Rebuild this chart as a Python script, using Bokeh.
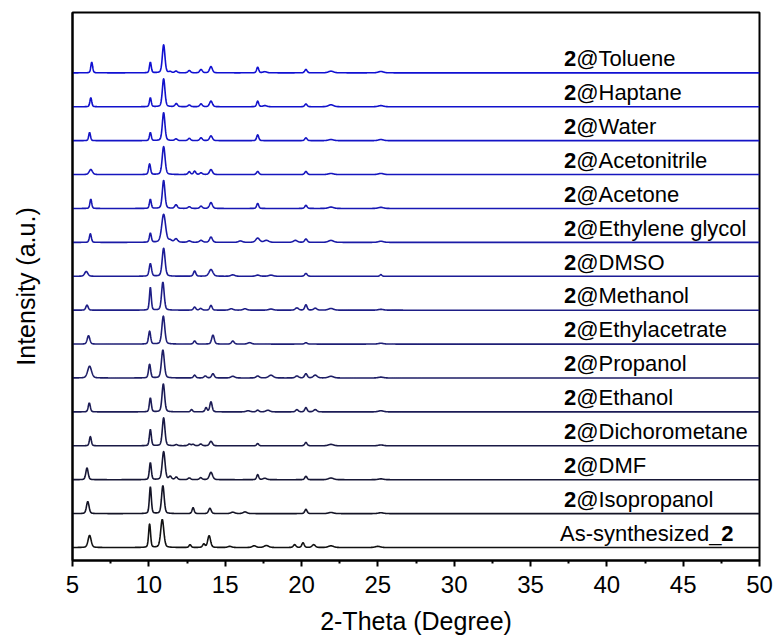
import numpy as np
from bokeh.plotting import figure
from bokeh.models import Range1d, FixedTicker, ColumnDataSource
from bokeh.core.properties import value
from bokeh.embed import file_html
from bokeh.resources import INLINE

# ---------------- data ----------------
SAMPLES = ["As-synthesized", "Isopropanol", "DMF", "Dichorometane", "Ethanol",
           "Propanol", "Ethylacetrate", "Methanol", "DMSO", "Ethylene glycol",
           "Acetone", "Acetonitrile", "Water", "Haptane", "Toluene"]

# peak positions (2-theta), relative intensities, FWHM (deg)
AS_POS = [6.12, 10.05, 10.88, 12.7, 13.6, 13.95, 15.3, 16.9, 17.7, 19.55, 20.1, 20.8, 21.93, 25.0]
AS_INT = [43, 84, 100, 10, 12, 42, 4, 6, 7, 10, 17, 10, 6, 4]
AS_W = [0.24, 0.15, 0.24, 0.16, 0.18, 0.22, 0.3, 0.3, 0.35, 0.2, 0.18, 0.25, 0.4, 0.4]

ISO_POS = [6.0, 10.1, 10.92, 12.9, 14.0, 15.5, 16.3, 20.29, 21.93, 25.2]
ISO_INT = [43, 95, 100, 21, 19, 5, 6, 15, 4, 3]
ISO_W = [0.2, 0.15, 0.2, 0.16, 0.2, 0.3, 0.3, 0.18, 0.4, 0.4]

DMF_POS = [5.95, 10.1, 10.97, 11.4, 11.8, 12.65, 13.4, 14.07, 17.13, 17.6, 20.29, 21.93, 25.2]
DMF_INT = [42, 61, 100, 11, 9, 6, 7, 26, 18, 5, 12, 6, 3]
DMF_W = [0.18, 0.15, 0.22, 0.2, 0.2, 0.2, 0.2, 0.25, 0.16, 0.3, 0.18, 0.4, 0.4]

DCM_POS = [6.17, 10.1, 10.97, 11.8, 12.65, 12.9, 13.4, 14.07, 17.13, 20.29, 21.93, 25.2]
DCM_INT = [33, 58, 100, 4, 6, 5, 6, 16, 8, 12, 5, 3]
DCM_W = [0.15, 0.15, 0.2, 0.2, 0.2, 0.2, 0.2, 0.22, 0.16, 0.18, 0.4, 0.4]

ETOH_POS = [6.1, 10.1, 10.95, 12.8, 13.75, 14.07, 16.5, 17.13, 17.8, 19.7, 20.29, 20.9, 25.2]
ETOH_INT = [32, 50, 100, 8, 15, 36, 4, 6, 6, 8, 15, 8, 4]
ETOH_W = [0.16, 0.15, 0.2, 0.16, 0.16, 0.18, 0.3, 0.2, 0.3, 0.2, 0.18, 0.25, 0.4]

PROP_POS = [6.12, 10.05, 10.92, 13.0, 13.7, 14.2, 15.5, 17.13, 18.0, 19.7, 20.29, 20.9, 21.93, 25.2]
PROP_INT = [42, 49, 100, 10, 7, 15, 6, 7, 10, 7, 15, 10, 6, 3]
PROP_W = [0.3, 0.16, 0.22, 0.18, 0.2, 0.2, 0.3, 0.25, 0.35, 0.25, 0.2, 0.3, 0.4, 0.4]

EA_POS = [6.05, 10.05, 10.95, 13.0, 14.2, 15.5, 16.6, 20.29, 25.2]
EA_INT = [30, 46, 100, 11, 32, 11, 5, 5, 3]
EA_W = [0.2, 0.16, 0.22, 0.18, 0.2, 0.2, 0.3, 0.2, 0.4]

MEOH_POS = [5.95, 10.1, 10.92, 13.0, 13.4, 14.07, 15.4, 16.3, 18.0, 19.7, 20.29, 20.9, 21.93, 25.2]
MEOH_INT = [18, 81, 100, 11, 6, 17, 5, 5, 4, 8, 19, 7, 6, 3]
MEOH_W = [0.18, 0.14, 0.2, 0.18, 0.2, 0.18, 0.3, 0.3, 0.35, 0.25, 0.18, 0.25, 0.4, 0.4]

DMSO_POS = [5.9, 10.1, 10.97, 13.0, 14.07, 15.5, 17.13, 18.0, 20.29, 25.2]
DMSO_INT = [17, 45, 100, 19, 24, 5, 4, 4, 10, 6]
DMSO_W = [0.25, 0.18, 0.22, 0.18, 0.3, 0.3, 0.3, 0.35, 0.2, 0.15]

EG_POS = [6.17, 10.1, 10.97, 11.4, 11.78, 12.65, 13.42, 14.07, 16.0, 17.13, 17.7, 19.6, 20.29, 21.93, 25.2]
EG_INT = [31, 33, 100, 7, 12, 5, 7, 19, 5, 15, 7, 7, 12, 7, 4]
EG_W = [0.15, 0.15, 0.3, 0.25, 0.25, 0.25, 0.25, 0.22, 0.3, 0.3, 0.35, 0.3, 0.2, 0.4, 0.4]

ACE_POS = [6.2, 10.1, 10.97, 11.78, 12.65, 13.42, 14.07, 17.13, 20.29, 21.93, 25.2]
ACE_INT = [33, 33, 100, 13, 6, 8, 21, 18, 11, 5, 4]
ACE_W = [0.14, 0.14, 0.2, 0.2, 0.2, 0.2, 0.22, 0.16, 0.18, 0.4, 0.4]

ACN_POS = [6.2, 10.05, 10.97, 12.65, 13.0, 13.42, 14.07, 17.13, 20.29, 21.93, 25.2]
ACN_INT = [18, 38, 100, 10, 12, 6, 18, 11, 11, 4, 4]
ACN_W = [0.25, 0.15, 0.22, 0.18, 0.18, 0.2, 0.22, 0.18, 0.18, 0.4, 0.4]

WAT_POS = [6.12, 10.1, 10.97, 11.78, 12.65, 13.42, 14.07, 17.13, 20.29, 21.93, 25.2]
WAT_INT = [29, 29, 100, 6, 8, 10, 17, 21, 10, 4, 4]
WAT_W = [0.14, 0.14, 0.2, 0.2, 0.2, 0.2, 0.22, 0.16, 0.18, 0.4, 0.4]

HEP_POS = [6.2, 10.1, 10.97, 11.8, 12.65, 13.42, 14.07, 17.13, 17.6, 20.29, 21.93, 25.2]
HEP_INT = [32, 32, 100, 11, 6, 10, 20, 20, 4, 10, 7, 4]
HEP_W = [0.14, 0.14, 0.2, 0.2, 0.2, 0.2, 0.22, 0.16, 0.3, 0.18, 0.4, 0.4]

TOL_POS = [6.26, 10.1, 10.97, 11.4, 11.78, 12.65, 13.42, 14.07, 17.13, 17.6, 20.29, 21.93, 25.2]
TOL_INT = [38, 38, 100, 4, 6, 8, 12, 22, 20, 4, 12, 6, 5]
TOL_W = [0.14, 0.14, 0.2, 0.2, 0.2, 0.2, 0.2, 0.22, 0.16, 0.3, 0.18, 0.4, 0.4]

X_TICKS = [5, 10, 15, 20, 25, 30, 35, 40, 45, 50]
X_MINOR = [7.5, 12.5, 17.5, 22.5, 27.5, 32.5, 37.5, 42.5, 47.5]

PEAKS = [(AS_POS, AS_INT, AS_W), (ISO_POS, ISO_INT, ISO_W), (DMF_POS, DMF_INT, DMF_W),
         (DCM_POS, DCM_INT, DCM_W), (ETOH_POS, ETOH_INT, ETOH_W), (PROP_POS, PROP_INT, PROP_W),
         (EA_POS, EA_INT, EA_W), (MEOH_POS, MEOH_INT, MEOH_W), (DMSO_POS, DMSO_INT, DMSO_W),
         (EG_POS, EG_INT, EG_W), (ACE_POS, ACE_INT, ACE_W), (ACN_POS, ACN_INT, ACN_W),
         (WAT_POS, WAT_INT, WAT_W), (HEP_POS, HEP_INT, HEP_W), (TOL_POS, TOL_INT, TOL_W)]

# ---------------- style ----------------
COLORS = ["#121212", "#141426", "#171736", "#1a1a46", "#1c1c56", "#1e1e66", "#1f1f76",
          "#1e1e86", "#1c1c96", "#1a1aa6", "#1818b4", "#1616be", "#1414c6", "#1212cc", "#1010d2"]
SCALE = 0.0083   # intensity 100 -> 0.83 offset units
FONT = "Liberation Sans"
LABEL_DY = 0.42

grid = np.arange(5.0, 50.0001, 0.02)


def profile(pos, inten, w):
    y = np.zeros_like(grid)
    for p0, h, f in zip(pos, inten, w):
        g = np.exp(-4 * np.log(2) * ((grid - p0) / f) ** 2)
        l = 1.0 / (1.0 + ((grid - p0) / (f / 2)) ** 2)
        y += h * (0.7 * g + 0.3 * l)
    return y


p = figure(width=775, height=638, output_backend="svg", toolbar_location=None,
           x_range=Range1d(5, 50), y_range=Range1d(-0.383, 15.78),
           min_border_left=72, min_border_right=16, min_border_top=12, min_border_bottom=78)
p.background_fill_color = "white"
p.border_fill_color = "white"
p.outline_line_color = "black"
p.outline_line_width = 2
p.xgrid.visible = False
p.ygrid.visible = False

for i, (pos, inten, w) in enumerate(PEAKS):
    y = i + SCALE * profile(pos, inten, w)
    p.line(grid, y, line_color=COLORS[i], line_width=1.6)

# labels
lab_src = ColumnDataSource(dict(x=[37.19] * 14, y=[i + LABEL_DY for i in range(1, 15)],
                                bold=["2"] * 14, rest=["@" + s for s in SAMPLES[1:]]))
FS = 22
p.text(x="x", y="y", text="bold", source=lab_src, text_font=value(FONT),
       text_font_size=f"{FS}px", text_font_style="bold", text_color="black",
       text_baseline="alphabetic", text_align="left")
p.text(x="x", y="y", text="rest", source=lab_src, text_font=value(FONT),
       text_font_size=f"{FS}px", text_color="black", text_baseline="alphabetic",
       text_align="left", x_offset=0.556 * FS)
p.text(x=[36.93], y=[LABEL_DY], text=["As-synthesized_"], text_font=value(FONT),
       text_font_size=f"{FS}px", text_color="black", text_baseline="alphabetic")
p.text(x=[36.93], y=[LABEL_DY], text=["2"], text_font=value(FONT), text_font_size=f"{FS}px",
       text_font_style="bold", text_color="black", text_baseline="alphabetic",
       x_offset=7.336 * FS)

# x axis
xa = p.xaxis[0]
xa.ticker = FixedTicker(ticks=X_TICKS, minor_ticks=X_MINOR)
xa.axis_line_color = "black"
xa.axis_line_width = 2
xa.major_tick_line_width = 2
xa.minor_tick_line_width = 2
xa.major_tick_in = 0
xa.major_tick_out = 6
xa.minor_tick_in = 0
xa.minor_tick_out = 3
xa.major_label_standoff = 9
xa.major_label_text_font = FONT
xa.major_label_text_font_size = "24px"
xa.major_label_text_color = "black"
xa.axis_label = "2-Theta (Degree)"
xa.axis_label_text_font = FONT
xa.axis_label_text_font_size = "25px"
xa.axis_label_text_font_style = "normal"
xa.axis_label_text_color = "black"
xa.axis_label_standoff = 11

# y axis
ya = p.yaxis[0]
ya.ticker = FixedTicker(ticks=[])
ya.axis_line_color = "black"
ya.axis_line_width = 2
ya.major_tick_line_color = None
ya.minor_tick_line_color = None
ya.major_label_text_font_size = "0px"
ya.axis_label = "Intensity (a.u.)"
ya.axis_label_text_font = FONT
ya.axis_label_text_font_size = "25px"
ya.axis_label_text_font_style = "normal"
ya.axis_label_text_color = "black"
ya.axis_label_standoff = 33

open("out.html", "w").write(file_html(p, INLINE))
